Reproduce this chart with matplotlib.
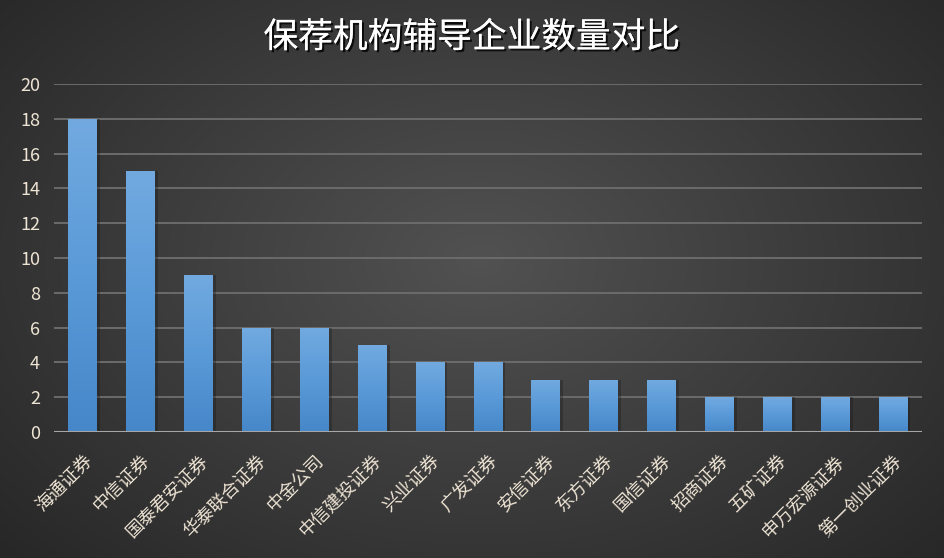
import matplotlib
matplotlib.use("Agg")
import matplotlib.pyplot as plt
import matplotlib.patheffects as pe
from matplotlib.colors import LinearSegmentedColormap
import numpy as np

plt.rcParams['font.family'] = ['Noto Sans CJK SC', 'DejaVu Sans']

# data
brokers = ["海通证券", "中信证券", "国泰君安证券", "华泰联合证券", "中金公司",
           "中信建投证券", "兴业证券", "广发证券", "安信证券", "东方证券",
           "国信证券", "招商证券", "五矿证券", "申万宏源证券", "第一创业证券"]
counts = [18, 15, 9, 6, 6, 5, 4, 4, 3, 3, 3, 2, 2, 2, 2]
yticks = list(range(0, 21, 2))

TICK = "#eee4d4"
fig = plt.figure(figsize=(9.44, 5.58), dpi=100)

# radial dark background
bg = fig.add_axes([0, 0, 1, 1], zorder=-10)
yy, xx = np.mgrid[0:558, 0:944]
r = np.sqrt(((xx - 480) / 620.0) ** 2 + ((yy - 260) / 420.0) ** 2)
shade = np.clip(0.32 - 0.16 * r, 0.13, 0.32)
bg.imshow(np.dstack([shade] * 3), aspect="auto", extent=[0, 1, 0, 1])
bg.set_axis_off()

ax = fig.add_axes([0.0572, 0.2258, 0.9195, 0.6237])
ax.patch.set_alpha(0)
x = np.arange(len(brokers))
w = 0.5

# soft shadow behind bars
ax.bar(x + 0.05, counts, w, color="#1a1a1a", alpha=0.35, zorder=2)
bars = ax.bar(x, counts, w, color="#5b9bd5", zorder=3)

cmap = LinearSegmentedColormap.from_list("bluegrad", ["#4687c9", "#5a9ad8", "#72aae0"])
grad = np.linspace(0, 1, 256).reshape(-1, 1)
for b in bars:
    x0, y0 = b.get_x(), b.get_y()
    im = ax.imshow(grad, cmap=cmap, origin="lower", aspect="auto",
                   extent=[x0, x0 + b.get_width(), y0, y0 + b.get_height()], zorder=4)
    im.set_clip_path(b)

ax.set_xlim(-0.5, len(brokers) - 0.5)
ax.set_ylim(0, 20)
ax.set_yticks(yticks)
for yv in yticks[1:]:
    ax.axhline(yv, color="#6b6b6b", lw=1.4, zorder=1)
ax.axhline(0, color="#a6a6a6", lw=2.2, zorder=5)

for s in ax.spines.values():
    s.set_visible(False)
ax.tick_params(axis="both", length=0, colors=TICK)
ax.tick_params(axis="y", labelsize=13, pad=10)
ax.set_xticks(x)
ax.set_xticklabels(brokers, rotation=45, ha="right", va="top", rotation_mode="anchor",
                   fontsize=13, color=TICK)
ax.tick_params(axis="x", pad=14)

fig.text(0.5, 0.932, "保荐机构辅导企业数量对比", ha="center", va="center",
         fontsize=25, color="white",
         path_effects=[pe.withSimplePatchShadow(offset=(1.5, -1.5), shadow_rgbFace="black", alpha=0.8),
                       pe.Normal()])

fig.savefig("out.png", dpi=100)
